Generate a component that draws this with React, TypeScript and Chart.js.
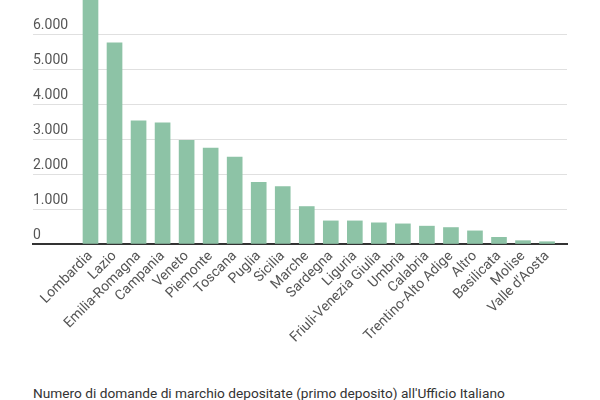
import React, { useEffect, useRef } from "react";
import { Chart, registerables } from "chart.js";

Chart.register(...registerables);

const regions: string[] = [
  "Lombardia", "Lazio", "Emilia-Romagna", "Campania", "Veneto", "Piemonte",
  "Toscana", "Puglia", "Sicilia", "Marche", "Sardegna", "Liguria",
  "Friuli-Venezia Giulia", "Umbria", "Calabria", "Trentino-Alto Adige",
  "Altro", "Basilicata", "Molise", "Valle d'Aosta",
];

const applications: number[] = [
  7600, 5750, 3520, 3460, 2960, 2740, 2480, 1760, 1640, 1070,
  660, 660, 605, 575, 510, 470, 375, 190, 95, 65,
];

const yTicks: number[] = [0, 1000, 2000, 3000, 4000, 5000, 6000, 7000, 8000];

const caption =
  "Numero di domande di marchio depositate (primo deposito) all'Ufficio Italiano";

const fmt = (v: number) =>
  String(v).replace(/\B(?=(\d{3})+(?!\d))/g, ".");

export default function App() {
  const ref = useRef<HTMLCanvasElement | null>(null);

  useEffect(() => {
    if (!ref.current) return;
    const chart = new Chart(ref.current, {
      type: "bar",
      data: {
        datasets: [
          {
            data: applications.map((v, i) => ({ x: i, y: v })),
            backgroundColor: "#8dc3a6",
            barThickness: 15,
          },
        ],
      },
      options: {
        animation: false,
        responsive: false,
        maintainAspectRatio: false,
        layout: { padding: { left: 33, right: 33, top: 20, bottom: 6 } },
        plugins: { legend: { display: false }, tooltip: { enabled: false } },
        scales: {
          x: {
            type: "linear",
            offset: false,
            min: -2.393,
            max: 19.83,
            afterFit: (s: any) => {
              s.height = 100;
            },
            grid: { display: true, color: "rgba(0,0,0,0)", drawTicks: false },
            border: { display: true, color: "#333333", width: 2 },
            ticks: {
              stepSize: 1,
              autoSkip: false,
              includeBounds: false,
              maxRotation: 45,
              minRotation: 45,
              padding: 4,
              color: "#555555",
              font: { family: "Roboto", size: 14 },
              callback: (v: any) => {
                const n = Number(v);
                return Number.isInteger(n) && regions[n] !== undefined ? regions[n] : "";
              },
            },
          },
          y: {
            min: 0,
            max: 8000,
            afterBuildTicks: (s: any) => {
              s.ticks = yTicks.map((v) => ({ value: v }));
            },
            grid: { color: "#e0e0e0", lineWidth: 1, drawTicks: false },
            border: { display: false },
            ticks: {
              mirror: true,
              padding: 0,
              labelOffset: -9,
              color: "#555555",
              font: { family: "Roboto", size: 14 },
              callback: (v: any) => fmt(Number(v)),
            },
          },
        },
      },
    });
    return () => chart.destroy();
  }, []);

  return (
    <div
      style={{
        position: "fixed",
        left: 0,
        top: 0,
        width: 600,
        height: 400,
        overflow: "hidden",
        background: "#ffffff",
      }}
    >
      <canvas
        ref={ref}
        width={600}
        height={406}
        style={{ position: "absolute", left: 0, top: -56, width: 600, height: 406 }}
      />
      <div
        style={{
          position: "absolute",
          left: 33,
          top: 385,
          fontFamily: "Roboto",
          fontSize: 13.7,
          lineHeight: "16px",
          color: "#333333",
          whiteSpace: "nowrap",
        }}
      >
        {caption}
      </div>
    </div>
  );
}
